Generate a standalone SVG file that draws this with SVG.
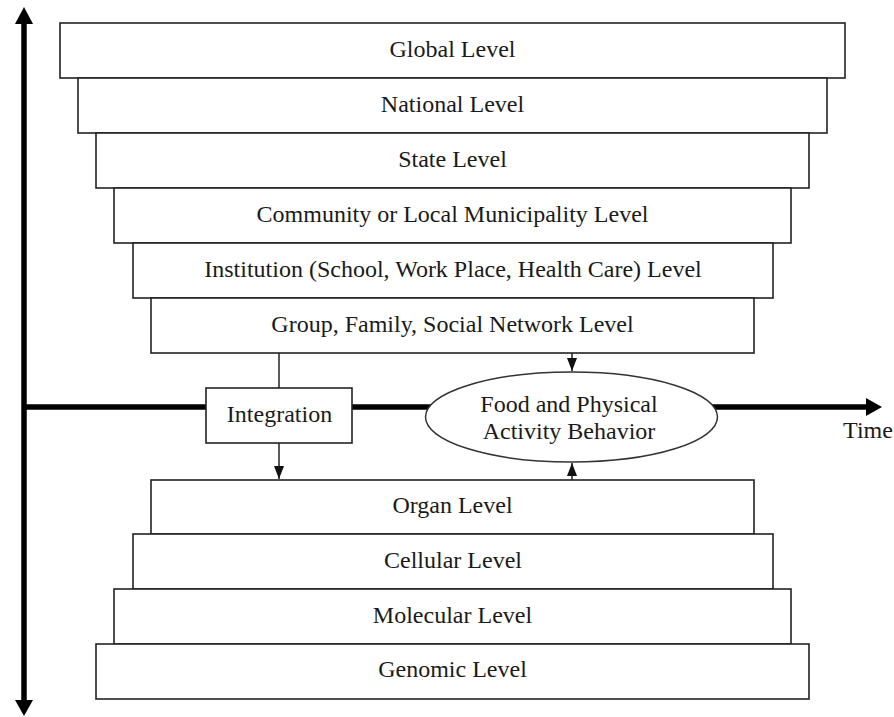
<svg xmlns="http://www.w3.org/2000/svg" width="894" height="717" viewBox="0 0 894 717">
  <style>
    .lvl { fill: #ffffff; stroke: #222222; stroke-width: 1.6; }
    .lbl { font-family: "Liberation Serif", "Times New Roman", serif; font-size: 24px; fill: #1a1a1a; text-anchor: middle; }
    .axis { stroke: #000000; stroke-width: 5.5; fill: none; }
    .head { fill: #000000; }
    .conn { stroke: #222222; stroke-width: 1.5; fill: none; }
  </style>
  <defs>
    <marker id="tip" viewBox="0 0 13 10" refX="13" refY="5" markerWidth="13" markerHeight="10" markerUnits="userSpaceOnUse" orient="auto">
      <path d="M0,0 L13,5 L0,10 Z" fill="#111111"/>
    </marker>
  </defs>

  <rect width="894" height="717" fill="#ffffff"/>

  <!-- axes: vertical scale and horizontal time axis -->
  <g id="axes">
    <line class="axis" x1="24" y1="22" x2="24" y2="702"/>
    <polygon class="head" points="15,24 24,7 33,24"/>
    <polygon class="head" points="15,700 24,716 33,700"/>
    <line class="axis" x1="24" y1="407" x2="868" y2="407"/>
    <polygon class="head" points="866,398 882,407 866,416"/>
    <text class="lbl" x="868" y="438">Time</text>
  </g>

  <!-- upper (social) levels -->
  <g id="global-level">
    <rect class="lvl" x="60" y="23" width="785" height="55"/>
    <text class="lbl" x="452.5" y="57">Global Level</text>
  </g>
  <g id="national-level">
    <rect class="lvl" x="78" y="78" width="749" height="55"/>
    <text class="lbl" x="452.5" y="112">National Level</text>
  </g>
  <g id="state-level">
    <rect class="lvl" x="96" y="133" width="713" height="55"/>
    <text class="lbl" x="452.5" y="167">State Level</text>
  </g>
  <g id="community-level">
    <rect class="lvl" x="114" y="188" width="677" height="55"/>
    <text class="lbl" x="452.5" y="222">Community or Local Municipality Level</text>
  </g>
  <g id="institution-level">
    <rect class="lvl" x="133" y="243" width="640" height="55"/>
    <text class="lbl" x="453" y="277">Institution (School, Work Place, Health Care) Level</text>
  </g>
  <g id="group-level">
    <rect class="lvl" x="151" y="298" width="603" height="55"/>
    <text class="lbl" x="452.5" y="332">Group, Family, Social Network Level</text>
  </g>

  <!-- connectors -->
  <g id="connectors">
    <line class="conn" x1="279" y1="353" x2="279" y2="388"/>
    <line class="conn" x1="279" y1="443" x2="279" y2="479" marker-end="url(#tip)"/>
    <line class="conn" x1="572" y1="353" x2="572" y2="371" marker-end="url(#tip)"/>
    <line class="conn" x1="572" y1="480" x2="572" y2="463" marker-end="url(#tip)"/>
  </g>

  <!-- central nodes -->
  <g id="integration">
    <rect class="lvl" x="206" y="388" width="146" height="55"/>
    <text class="lbl" x="279.5" y="422">Integration</text>
  </g>
  <g id="behavior">
    <ellipse cx="571.5" cy="417" rx="146" ry="45" fill="#ffffff" stroke="#333333" stroke-width="1.5"/>
    <text class="lbl" x="569" y="412">Food and Physical</text>
    <text class="lbl" x="569" y="439">Activity Behavior</text>
  </g>

  <!-- lower (biological) levels -->
  <g id="organ-level">
    <rect class="lvl" x="151" y="480" width="603" height="54"/>
    <text class="lbl" x="452.5" y="513">Organ Level</text>
  </g>
  <g id="cellular-level">
    <rect class="lvl" x="133" y="534" width="640" height="55"/>
    <text class="lbl" x="453" y="568">Cellular Level</text>
  </g>
  <g id="molecular-level">
    <rect class="lvl" x="114" y="589" width="677" height="55"/>
    <text class="lbl" x="452.5" y="623">Molecular Level</text>
  </g>
  <g id="genomic-level">
    <rect class="lvl" x="96" y="644" width="713" height="55"/>
    <text class="lbl" x="452.5" y="677">Genomic Level</text>
  </g>
</svg>
